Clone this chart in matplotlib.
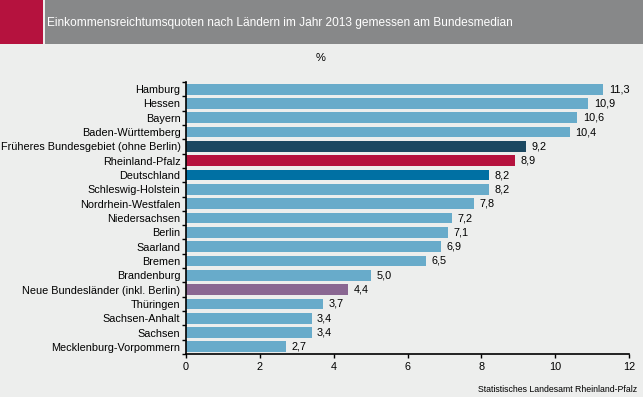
import matplotlib
matplotlib.use("Agg")
import matplotlib.pyplot as plt
from matplotlib.patches import Rectangle

categories = ["Hamburg", "Hessen", "Bayern", "Baden-Württemberg",
              "Früheres Bundesgebiet (ohne Berlin)", "Rheinland-Pfalz", "Deutschland",
              "Schleswig-Holstein", "Nordrhein-Westfalen", "Niedersachsen", "Berlin",
              "Saarland", "Bremen", "Brandenburg", "Neue Bundesländer (inkl. Berlin)",
              "Thüringen", "Sachsen-Anhalt", "Sachsen", "Mecklenburg-Vorpommern"]
values = [11.3, 10.9, 10.6, 10.4, 9.2, 8.9, 8.2, 8.2, 7.8, 7.2, 7.1, 6.9, 6.5, 5.0, 4.4, 3.7, 3.4, 3.4, 2.7]
xticks = [0, 2, 4, 6, 8, 10, 12]
title = "Einkommensreichtumsquoten nach Ländern im Jahr 2013 gemessen am Bundesmedian"
source = "Statistisches Landesamt Rheinland-Pfalz"

base = "#68ABCA"
special = {"Früheres Bundesgebiet (ohne Berlin)": "#1C4861",
           "Rheinland-Pfalz": "#B5123E",
           "Deutschland": "#0070A3",
           "Neue Bundesländer (inkl. Berlin)": "#8A6792"}
colors = [special.get(c, base) for c in categories]

plt.rcParams['font.family'] = ['Liberation Sans', 'DejaVu Sans']
bg = "#EDEEED"
fig = plt.figure(figsize=(6.43, 3.97), dpi=100, facecolor=bg)

# header band
fig.patches.append(Rectangle((0, 1 - 44/397), 43/643, 44/397, transform=fig.transFigure,
                             facecolor="#B5123E", edgecolor="none"))
fig.patches.append(Rectangle((45/643, 1 - 44/397), 1 - 45/643, 44/397, transform=fig.transFigure,
                             facecolor="#878889", edgecolor="none"))
fig.text(47/643, 1 - 23/397, title, color="white", fontsize=8.6, va="center", ha="left")
fig.text(321/643, 1 - 58/397, "%", color="black", fontsize=8, va="center", ha="center")
fig.text(637/643, 1 - 389/397, source, color="black", fontsize=6.3, va="center", ha="right")

ax = fig.add_axes([186/643, 1 - 354/397, (629 - 186)/643, (354 - 82)/397])
ax.set_facecolor(bg)
y = list(range(len(categories)))
ax.barh(y, values, height=0.75, color=colors)
ax.set_ylim(len(categories) - 0.5, -0.5)
ax.set_xlim(0, 12)
ax.set_xticks(xticks)
ax.set_xticklabels([str(t) for t in xticks], fontsize=7.8)
ax.set_yticks(y)
ax.set_yticklabels(categories, fontsize=7.8)
ax.tick_params(axis='y', length=0, pad=4)
ax.set_yticks([i + 0.5 for i in range(-1, len(categories))], minor=True)
ax.tick_params(axis='y', which='minor', length=3, width=1, direction='out')
ax.tick_params(axis='x', length=3, width=1, direction='out', pad=3)
for s in ["top", "right"]:
    ax.spines[s].set_visible(False)
for s in ["left", "bottom"]:
    ax.spines[s].set_linewidth(1.2)

for yi, v in zip(y, values):
    ax.text(v + 0.15, yi, f"{v:.1f}".replace(".", ","), va="center", ha="left", fontsize=7.8)

fig.savefig("out.png", dpi=100, facecolor=bg)
